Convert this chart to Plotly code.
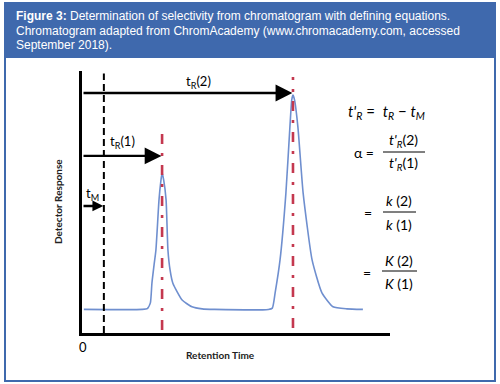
import plotly.graph_objects as go

# ---- data (arbitrary time / response units) ----
t_M = 0.71
t_R1 = 2.60
t_R2 = 6.85
baseline = 0.90

trace_x = [0.06, 1.95, 2.12, 2.22, 2.27, 2.34, 2.40, 2.50, 2.56, 2.60, 2.65, 2.73, 2.79, 2.86, 2.95,
           3.25, 3.57, 3.90, 4.30, 6.05, 6.18, 6.27, 6.43, 6.62, 6.75, 6.81, 6.85, 6.90, 7.01, 7.18,
           7.47, 7.79, 8.15, 8.60, 9.12]
trace_y = [0.90, 0.90, 0.93, 1.15, 1.90, 2.60, 3.17, 5.08, 5.80, 6.11, 5.85, 5.08, 3.17, 2.40, 1.90,
           1.26, 1.00, 0.92, 0.90, 0.90, 0.95, 1.53, 2.79, 5.34, 7.86, 8.90, 9.08, 8.90, 7.86, 5.34,
           2.79, 1.53, 1.00, 0.92, 0.90]

peak1_line_y = [0.11, 7.67]
peak2_line_y = [0.19, 9.77]
tm_line_y = [0.0, 9.9]

arrow_levels = {"tR2": 9.16, "tR1": 6.76, "tM": 4.85}

header_lines = [
    "<b>Figure 3:</b> Determination of selectivity from chromatogram with defining equations.",
    "Chromatogram adapted from ChromAcademy (www.chromacademy.com, accessed",
    "September 2018).",
]

# ---- layout helpers (pixel -> paper) ----
L, R, T, B = 82, 110, 71, 51
W, H = 500, 384
PW, PH = W - L - R, H - T - B


def px(x):
    return (x - L) / PW


def py(y):
    return (H - B - y) / PH


BLUE = "#3f69ad"
fig = go.Figure()

# chromatogram trace
fig.add_trace(go.Scatter(x=trace_x, y=trace_y, mode="lines",
                         line=dict(color="#6f8fcf", width=1.6, shape="spline", smoothing=0.5),
                         hoverinfo="skip", showlegend=False))
# retention-time markers
for tr, ys in ((t_R1, peak1_line_y), (t_R2, peak2_line_y)):
    fig.add_trace(go.Scatter(x=[tr, tr], y=ys, mode="lines",
                             line=dict(color="#c4384f", width=2.6, dash="10px,9px,3px,9px"),
                             hoverinfo="skip", showlegend=False))
fig.add_trace(go.Scatter(x=[t_M, t_M], y=tm_line_y, mode="lines",
                         line=dict(color="black", width=2, dash="7px,4px"),
                         hoverinfo="skip", showlegend=False))

annotations = []
# arrows
for tip, key in ((t_R2, "tR2"), (t_R1, "tR1"), (t_M, "tM")):
    yv = arrow_levels[key]
    annotations.append(dict(x=tip - 0.02, y=yv, ax=0.0, ay=yv, xref="x", yref="y", axref="x", ayref="y",
                            text="", showarrow=True, arrowhead=2,
                            arrowsize=1.4 if key != "tM" else 0.9, arrowwidth=2.4, arrowcolor="black"))

lab_font = dict(family="Lato, Open Sans, sans-serif", size=13, color="black")
annotations += [
    dict(x=3.77, y=9.58, xref="x", yref="y", text="t<sub>R</sub>(2)", showarrow=False, font=lab_font),
    dict(x=1.30, y=7.29, xref="x", yref="y", text="t<sub>R</sub>(1)", showarrow=False, font=lab_font),
    dict(x=0.34, y=5.30, xref="x", yref="y", text="t<sub>M</sub>", showarrow=False, font=lab_font),
]

# axis texts
ax_font = dict(family="Lato, Open Sans, sans-serif", size=10, color="#222")
annotations += [
    dict(x=px(83), y=py(347), xref="paper", yref="paper", text="0", showarrow=False,
         xanchor="center", yanchor="middle",
         font=dict(family="Lato, sans-serif", size=13, color="black")),
    dict(x=px(220), y=py(355), xref="paper", yref="paper", text="<b>Retention Time</b>", showarrow=False,
         xanchor="center", yanchor="middle", font=ax_font),
    dict(x=px(58), y=py(202), xref="paper", yref="paper", text="<b>Detector Response</b>", showarrow=False,
         xanchor="center", yanchor="middle", textangle=-90, font=ax_font),
]

# equations
eq_font = dict(family="Lato, Open Sans, sans-serif", size=15, color="black")
eq_small = dict(family="Lato, Open Sans, sans-serif", size=14, color="black")


def ann(x, y, text, font, xanchor="center"):
    return dict(x=px(x), y=py(y), xref="paper", yref="paper", text=text, showarrow=False,
                font=font, xanchor=xanchor, yanchor="middle")


annotations += [
    ann(346, 112, "<i>t'</i><sub><i>R</i></sub> =  <i>t</i><sub><i>R</i></sub> − <i>t</i><sub><i>M</i></sub>",
        eq_font, "left"),
    ann(364, 152, "α =", eq_small),
    ann(403, 140, "<i>t'</i><sub><i>R</i></sub>(2)", eq_small),
    ann(403, 163, "<i>t'</i><sub><i>R</i></sub>(1)", eq_small),
    ann(368, 212, "=", eq_small),
    ann(399, 200, "<i>k</i> (2)", eq_small),
    ann(399, 224, "<i>k</i> (1)", eq_small),
    ann(367, 272, "=", eq_small),
    ann(399, 260, "<i>K</i> (2)", eq_small),
    ann(399, 283, "<i>K</i> (1)", eq_small),
]

# header text
hdr_font = dict(family="Liberation Sans, Arial, sans-serif", size=12, color="white")
for i, line in enumerate(header_lines):
    annotations.append(dict(x=px(14), y=py(16 + i * 14.5), xref="paper", yref="paper", text=line,
                            showarrow=False, xanchor="left", yanchor="middle", font=hdr_font))

shapes = [
    dict(type="rect", xref="paper", yref="paper", x0=px(5), x1=px(495), y0=py(58), y1=py(3),
         fillcolor=BLUE, line=dict(width=0), layer="below"),
    dict(type="rect", xref="paper", yref="paper", x0=px(5), x1=px(495), y0=py(381), y1=py(3),
         fillcolor="rgba(0,0,0,0)", line=dict(color=BLUE, width=2)),
    # fraction bars
    dict(type="line", xref="paper", yref="paper", x0=px(383), x1=px(425), y0=py(152), y1=py(152),
         line=dict(color="black", width=1)),
    dict(type="line", xref="paper", yref="paper", x0=px(383), x1=px(416), y0=py(212), y1=py(212),
         line=dict(color="black", width=1)),
    dict(type="line", xref="paper", yref="paper", x0=px(382), x1=px(417), y0=py(271), y1=py(271),
         line=dict(color="black", width=1)),
]

fig.update_layout(
    width=W, height=H, margin=dict(l=L, r=R, t=T, b=B),
    paper_bgcolor="white", plot_bgcolor="white",
    xaxis=dict(range=[0, 10], showgrid=False, zeroline=False, showticklabels=False, ticks="",
               showline=True, linecolor="black", linewidth=2.5),
    yaxis=dict(range=[0, 10], showgrid=False, zeroline=False, showticklabels=False, ticks="",
               showline=True, linecolor="black", linewidth=2.5),
    annotations=annotations, shapes=shapes, showlegend=False,
)

fig.write_html("out.html", config={"displayModeBar": False},
               post_script="document.body.style.margin='0';document.body.style.overflow='hidden';")
